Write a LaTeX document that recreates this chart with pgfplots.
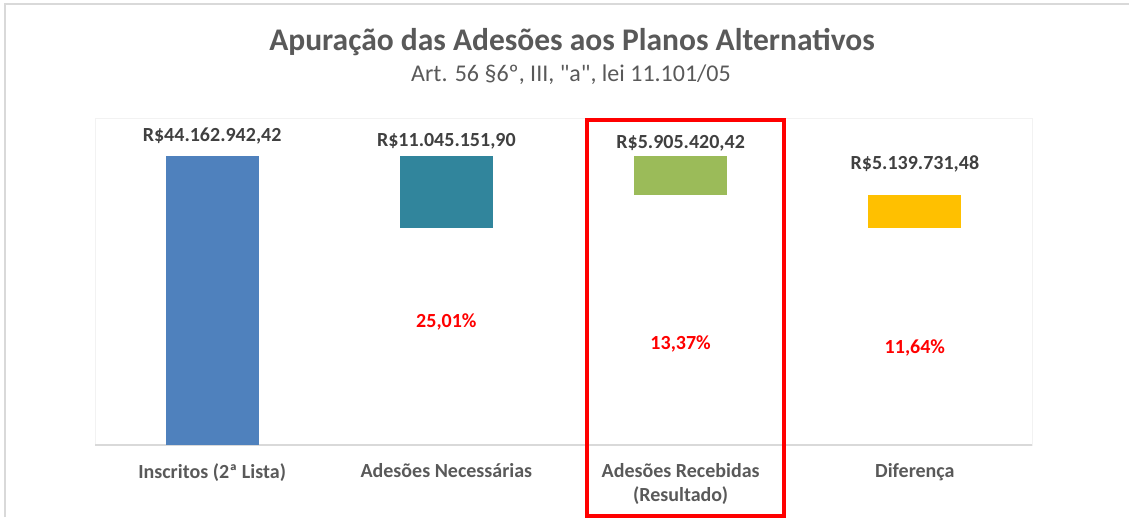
\documentclass[border=0pt]{standalone}
\usepackage{pgfplots}
\pgfplotsset{compat=1.18}
\usepackage{fontspec}
\setmainfont{Carlito}
\definecolor{cblue}{HTML}{4F81BD}
\definecolor{cteal}{HTML}{31859C}
\definecolor{cgreen}{HTML}{9BBB59}
\definecolor{cyellow}{HTML}{FFC000}
\definecolor{tgray}{HTML}{595959}
\definecolor{lgray}{HTML}{404040}
\definecolor{bgray}{HTML}{D9D9D9}
\definecolor{pgray}{HTML}{F2F2F2}
\tikzset{
  vlab/.style={font=\fontsize{20}{24}\selectfont\bfseries, text=lgray},
  plab/.style={font=\fontsize{20}{24}\selectfont\bfseries, text=red},
}
\begin{document}
\begin{tikzpicture}
\path[use as bounding box] (0pt,0pt) rectangle (1129pt,-517pt);
\draw[color=bgray, line width=1.5pt] (5pt,-517pt) -- (5pt,-4pt) -- (1129pt,-4pt);
\node[font=\fontsize{31.5}{36}\selectfont\bfseries, text=tgray] at (572pt,-42pt) {Apuração das Adesões aos Planos Alternativos};
\node[font=\fontsize{24}{28}\selectfont, text=tgray] at (571pt,-75pt) {Art. 56 §6º, III, \textquotedbl a\textquotedbl, lei 11.101/05};
\begin{axis}[
  at={(95pt,-445pt)}, anchor=south west,
  scale only axis, width=937pt, height=327pt,
  xmin=-0.5, xmax=3.5, ymin=0, ymax=50,
  ybar stacked, bar width=93pt,
  axis line style={draw=pgray, line width=1pt},
  ytick=\empty,
  xtick={0,1,2,3},
  xticklabels={Inscritos (2ª Lista), Adesões Necessárias, {Adesões Recebidas\\(Resultado)}, Diferença},
  major tick length=0pt,
  xticklabel style={align=center, font=\fontsize{20}{24}\selectfont\bfseries, text=tgray, yshift=-15pt},
  clip=false,
]
\addplot[draw=none, fill=none] coordinates {(0,0) (1,33.11779052) (2,38.257522) (3,33.11779052)};
\addplot[draw=none, fill=cblue] coordinates {(0,44.16294242) (1,0) (2,0) (3,0)};
\addplot[draw=none, fill=cteal] coordinates {(0,0) (1,11.0451519) (2,0) (3,0)};
\addplot[draw=none, fill=cgreen] coordinates {(0,0) (1,0) (2,5.90542042) (3,0)};
\addplot[draw=none, fill=cyellow] coordinates {(0,0) (1,0) (2,0) (3,5.13973148)};
\draw[bgray, line width=1.2pt] (axis cs:-0.5,0) -- (axis cs:3.5,0);
\node[vlab] at (axis cs:0,47.2) {R\$44.162.942,42};
\node[vlab] at (axis cs:1,46.5) {R\$11.045.151,90};
\node[vlab] at (axis cs:2,46.2) {R\$5.905.420,42};
\node[vlab] at (axis cs:3,43.0) {R\$5.139.731,48};
\node[plab] at (axis cs:1,18.8) {25,01\%};
\node[plab] at (axis cs:2,15.4) {13,37\%};
\node[plab] at (axis cs:3,14.8) {11,64\%};
\end{axis}
\draw[red, line width=3.5pt] (587pt,-120pt) rectangle (784pt,-516pt);
\end{tikzpicture}
\end{document}
